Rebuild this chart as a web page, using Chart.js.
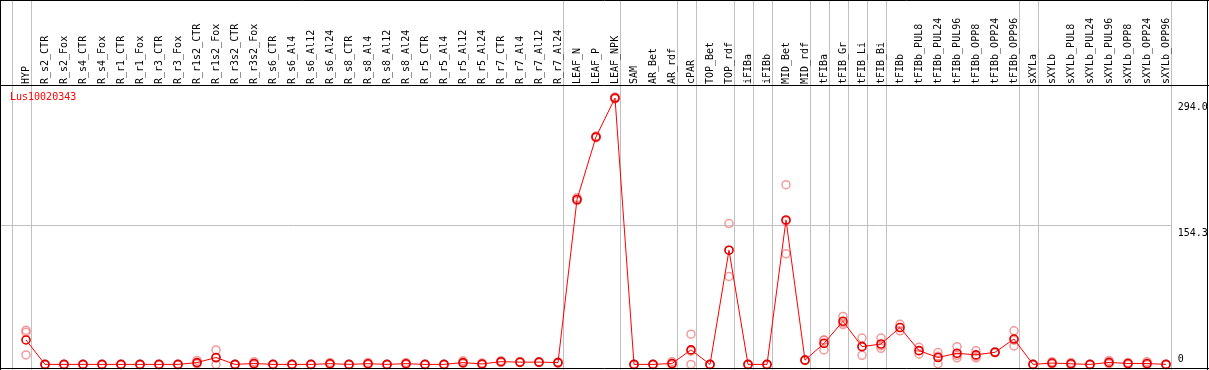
<!DOCTYPE html>
<html>
<head>
<meta charset="utf-8">
<title>Lus10020343</title>
<script src="https://cdn.jsdelivr.net/npm/chart.js@4/dist/chart.umd.min.js"></script>
<style>
  html, body { margin: 0; padding: 0; background: #fff; }
  canvas { display: block; }
</style>
</head>
<body>
<canvas id="chart" width="1209" height="370"></canvas>
<script>
// sample names along the top
const categories = [
    'HYP', 'R_s2_CTR', 'R_s2_Fox', 'R_s4_CTR', 'R_s4_Fox', 'R_r1_CTR', 'R_r1_Fox',
    'R_r3_CTR', 'R_r3_Fox', 'R_r1s2_CTR', 'R_r1s2_Fox', 'R_r3s2_CTR', 'R_r3s2_Fox',
    'R_s6_CTR', 'R_s6_Al4', 'R_s6_Al12', 'R_s6_Al24', 'R_s8_CTR', 'R_s8_Al4', 'R_s8_Al12',
    'R_s8_Al24', 'R_r5_CTR', 'R_r5_Al4', 'R_r5_Al12', 'R_r5_Al24', 'R_r7_CTR', 'R_r7_Al4',
    'R_r7_Al12', 'R_r7_Al24', 'LEAF_N', 'LEAF_P', 'LEAF_NPK', 'SAM', 'AR_Bet', 'AR_rdf',
    'cPAR', 'TOP_Bet', 'TOP_rdf', 'iFIBa', 'iFIBb', 'MID_Bet', 'MID_rdf', 'tFIBa',
    'tFIB_Gr', 'tFIB_Li', 'tFIB_Bi', 'tFIBb', 'tFIBb_PUL8', 'tFIBb_PUL24', 'tFIBb_PUL96',
    'tFIBb_OPP8', 'tFIBb_OPP24', 'tFIBb_OPP96', 'sXYLa', 'sXYLb', 'sXYLb_PUL8',
    'sXYLb_PUL24', 'sXYLb_PUL96', 'sXYLb_OPP8', 'sXYLb_OPP24', 'sXYLb_OPP96'
];

// mean expression per sample
const meanValues = [
    27, 0, 0, 0, 0, 0, 0, 0, 0, 2, 7.6, 0, 1,
    0, 0, 0, 0.8, 0, 0.8, 0, 0.8, 0, 0, 2, 0.5, 3, 2.5, 2.5, 2,
    182, 251, 294, 0, 0, 1,
    16, 0, 126, 0, 0, 159.4, 4.7, 23.2,
    47.6, 19.6, 22.5, 40.7, 15.2, 7.6, 12.3, 10.5, 13.4, 28,
    0, 1.5, 0.7, 0, 2.2, 1, 1, 0
];

// the three replicates
const rep1 = [
    37.8, 0, 0, 0, 0, 0, 0, 0, 0, 4.4, 16, 0, 3,
    0, 0, 0, 2, 0, 2, 0, 2, 0, 0, 4, 1.5, 4, 3, 3, 2.5,
    184, 252, 295, 0, 0, 3,
    33.4, 0, 155.4, 0, 0, 198.3, 5, 26.9,
    53, 29, 29, 44.3, 18.9, 13, 19.6, 15.2, 14, 37,
    0, 3, 2, 0, 4.4, 2, 3, 0
];
const rep2 = [
    35.6, 0, 0, 0, 0, 0, 0, 0, 0, 1, 0, 0, 0,
    0, 0, 0, 0, 0, 0, 0, 0, 0, 0, 1, 0, 3, 2.5, 2.5, 2,
    181, 251, 294, 0, 0, 0,
    14.6, 0, 126, 0, 0, 158, 4.7, 26.7,
    45.8, 19.8, 20.7, 40.8, 15.1, 9.1, 10, 9, 13.4, 26.7,
    0, 1, 0, 0, 1.5, 1, 0, 0
];
const rep3 = [
    10.5, 0, 0, 0, 0, 0, 0, 0, 0, 0.6, 7, 0, 0,
    0, 0, 0, 0.4, 0, 0.4, 0, 0.4, 0, 0, 1, 0, 2, 2, 2, 1.5,
    181, 250, 293, 0, 0, 0,
    0, 0, 97, 0, 0, 122, 4.4, 16,
    44, 10, 17.8, 37, 11.6, 0.7, 7.3, 7.3, 12.8, 20.3,
    0, 0.5, 0, 0, 0.7, 0, 0, 0
];

// right-hand value labels
const yTickValues = [294, 154.3, 0];
const yTickLabels = ['294.0', '154.3', '0'];

// index of the last sample in each group (grey separator drawn after it)
const groupEnds = [-1, 0, 28, 31, 34, 35, 37, 38, 39, 41, 42, 43, 44, 45, 52, 53, 60];

const geneName = 'Lus10020343';
const monoFont = '"DejaVu Sans Mono", "Liberation Mono", monospace';

// grid, frame, title and value labels
const decorations = {
    id: 'decorations',
    beforeDraw(chart) {
        const ctx = chart.ctx;
        const x = chart.scales.x;
        const y = chart.scales.y;
        const step = x.getPixelForValue(1) - x.getPixelForValue(0);
        ctx.save();
        ctx.fillStyle = '#fff';
        ctx.fillRect(0, 0, chart.width, chart.height);
        ctx.strokeStyle = '#c0c0c0';
        ctx.lineWidth = 1;
        groupEnds.forEach(i => {
            const px = Math.round(x.getPixelForValue(0) + (i + 0.25) * step) + 0.5;
            ctx.beginPath();
            ctx.moveTo(px, 0);
            ctx.lineTo(px, chart.height);
            ctx.stroke();
        });
        const lastSep = Math.round(x.getPixelForValue(0) + (groupEnds[groupEnds.length - 1] + 0.25) * step);
        const py = Math.round(y.getPixelForValue(yTickValues[1])) + 0.5;
        ctx.beginPath();
        ctx.moveTo(1, py);
        ctx.lineTo(lastSep, py);
        ctx.stroke();
        ctx.restore();
    },
    afterDraw(chart) {
        const ctx = chart.ctx;
        const x = chart.scales.x;
        const y = chart.scales.y;
        const step = x.getPixelForValue(1) - x.getPixelForValue(0);
        const w = chart.width;
        const h = chart.height;
        ctx.save();
        ctx.strokeStyle = '#000';
        ctx.lineWidth = 1;
        ctx.beginPath();
        ctx.moveTo(0, 0.5); ctx.lineTo(w, 0.5);
        ctx.moveTo(0.5, 0); ctx.lineTo(0.5, h);
        ctx.moveTo(w - 1.5, 0); ctx.lineTo(w - 1.5, h);
        ctx.moveTo(0, 85.5); ctx.lineTo(w, 85.5);
        ctx.moveTo(0, h - 1.5); ctx.lineTo(w, h - 1.5);
        ctx.stroke();

        ctx.font = '10px ' + monoFont;
        ctx.textBaseline = 'top';
        ctx.fillStyle = '#ff0000';
        ctx.fillText(geneName, 10, 92);

        ctx.fillStyle = '#000';
        const lx = x.getPixelForValue(0) + (groupEnds[groupEnds.length - 1] + 0.25) * step + 7;
        yTickValues.forEach((v, i) => {
            const ty = Math.min(y.getPixelForValue(v) + 4, y.bottom - 10);
            ctx.fillText(yTickLabels[i], lx, ty);
        });
        ctx.restore();
    }
};

const replicateStyle = {
    showLine: false,
    pointRadius: 4,
    pointBorderWidth: 1.5,
    pointBorderColor: 'rgba(240, 120, 120, 0.75)',
    pointBackgroundColor: 'transparent',
    clip: false
};

new Chart(document.getElementById('chart'), {
    type: 'line',
    data: {
        labels: categories,
        datasets: [
            {
                label: 'mean',
                data: meanValues,
                borderColor: '#ff0000',
                borderWidth: 1,
                pointRadius: 4,
                pointBorderWidth: 1.6,
                pointBorderColor: '#e00000',
                pointBackgroundColor: 'transparent',
                tension: 0,
                clip: false
            },
            Object.assign({ label: 'rep1', data: rep1 }, replicateStyle),
            Object.assign({ label: 'rep2', data: rep2 }, replicateStyle),
            Object.assign({ label: 'rep3', data: rep3 }, replicateStyle)
        ]
    },
    options: {
        responsive: false,
        animation: false,
        devicePixelRatio: 1,
        layout: { padding: { left: 26, right: 43, top: 0, bottom: 2 } },
        plugins: {
            legend: { display: false },
            tooltip: { enabled: false }
        },
        scales: {
            x: {
                type: 'category',
                position: 'top',
                offset: false,
                grid: { display: false },
                border: { display: false },
                ticks: {
                    autoSkip: false,
                    minRotation: 90,
                    maxRotation: 90,
                    padding: 6,
                    labelOffset: 12,
                    color: '#000',
                    font: { family: monoFont, size: 10 }
                },
                afterFit(scale) {
                    scale.height = 98;
                    scale.paddingLeft = 0;
                    scale.paddingRight = 0;
                }
            },
            y: {
                display: false,
                min: 0,
                max: 294
            }
        }
    },
    plugins: [decorations]
});
</script>
</body>
</html>
